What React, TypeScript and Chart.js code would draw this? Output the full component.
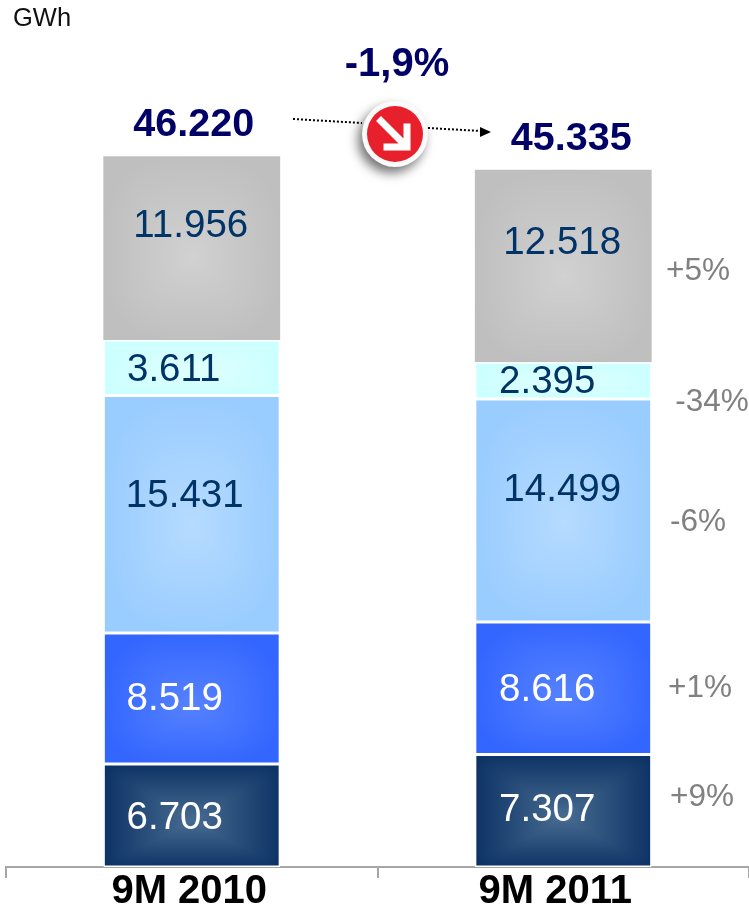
import React, { useEffect, useRef } from "react";
import { Chart, registerables } from "chart.js";

Chart.register(...registerables);

const categories = ["9M 2010", "9M 2011\u00a0"];
const navyValues = [6703, 7307];
const blueValues = [8519, 8616];
const lightBlueValues = [15431, 14499];
const cyanValues = [3611, 2395];
const greyValues = [11956, 12518];
const totals = ["46.220", "45.335"];
const changeLabels = ["+9%", "+1%", "-6%", "-34%", "+5%"];
const overallChange = "-1,9%";
const unitLabel = "GWh";

const FONT = '"Liberation Sans", Arial, sans-serif';

type Rgb = [number, number, number];
const seriesStyles: { name: string; values: number[]; edge: Rgb; centre: Rgb; power: number; text: string; border: number }[] = [
  { name: "a", values: navyValues, edge: [13, 51, 102], centre: [72, 108, 144], power: 12, text: "#ffffff", border: 1.5 },
  { name: "b", values: blueValues, edge: [51, 102, 255], centre: [86, 130, 255], power: 3, text: "#ffffff", border: 1.5 },
  { name: "c", values: lightBlueValues, edge: [153, 204, 255], centre: [182, 219, 255], power: 3, text: "#003366", border: 1.5 },
  { name: "d", values: cyanValues, edge: [204, 255, 255], centre: [224, 255, 255], power: 3, text: "#003366", border: 1.5 },
  { name: "e", values: greyValues, edge: [191, 191, 191], centre: [209, 209, 209], power: 3, text: "#003366", border: 0 },
];

// label offsets from the centre of each bar segment, by [dataset][bar]
const labelNudges: [number, number][][] = [
  [[-17, 1], [-16, -2]],
  [[-17, -1], [-16, 0]],
  [[-7, -20], [-1, -22]],
  [[-18, 1], [-16, 0]],
  [[-1, -24], [-1, -25]],
];
const changeAnchors: [number, number][] = [
  [702, 795],
  [700, 686],
  [698, 520],
  [712, 400],
  [698, 269],
];

const rgb = (c: Rgb) => `rgb(${c[0]},${c[1]},${c[2]})`;
const patternCache = new Map<string, CanvasPattern>();

function boxGlow(ctx: any) {
  const style = seriesStyles[ctx.datasetIndex];
  const chart = ctx.chart;
  const sx = chart.scales?.x;
  const sy = chart.scales?.y;
  if (!chart.chartArea || !sx || !sy) return rgb(style.edge);
  let below = 0;
  for (let i = 0; i < ctx.datasetIndex; i++) below += seriesStyles[i].values[ctx.dataIndex];
  const value = style.values[ctx.dataIndex];
  const yBottom = sy.getPixelForValue(below);
  const yTop = sy.getPixelForValue(below + value);
  const cx = sx.getPixelForValue(ctx.dataIndex);
  const w = (sx.width / categories.length) * 0.476;
  const key = `${ctx.datasetIndex}-${ctx.dataIndex}-${yTop}-${yBottom}-${w}`;
  const hit = patternCache.get(key);
  if (hit) return hit;
  const off = document.createElement("canvas");
  off.width = chart.width;
  off.height = chart.height;
  const oc = off.getContext("2d")!;
  const x0 = Math.floor(cx - w / 2) - 2;
  const y0 = Math.floor(yTop) - 2;
  const pw = Math.ceil(w) + 4;
  const ph = Math.ceil(yBottom - yTop) + 4;
  const img = oc.createImageData(pw, ph);
  const midY = yTop + (yBottom - yTop) * 0.55;
  for (let py = 0; py < ph; py++) {
    for (let px = 0; px < pw; px++) {
      const dx = Math.abs(x0 + px - cx) / (w / 2);
      const wy = y0 + py < midY ? midY - yTop : yBottom - midY;
      const dy = Math.abs(y0 + py - midY) / wy;
      const t = Math.min(1, Math.pow(Math.pow(dx, style.power) + Math.pow(dy, style.power), 1 / style.power));
      const k = 1 - t;
      const o = (py * pw + px) * 4;
      for (let c = 0; c < 3; c++) img.data[o + c] = style.edge[c] + (style.centre[c] - style.edge[c]) * k;
      img.data[o + 3] = 255;
    }
  }
  oc.putImageData(img, x0, y0);
  const pattern = oc.createPattern(off, "no-repeat")!;
  patternCache.set(key, pattern);
  return pattern;
}

function text(c: CanvasRenderingContext2D, s: string, x: number, y: number, font: string, color: string, align: CanvasTextAlign = "center") {
  c.font = font;
  c.fillStyle = color;
  c.textAlign = align;
  c.textBaseline = "middle";
  c.fillText(s, x, y + 2);
}

function dotted(c: CanvasRenderingContext2D, x1: number, y1: number, x2: number, y2: number) {
  c.save();
  c.strokeStyle = "#000000";
  c.lineWidth = 2;
  c.setLineDash([2, 2]);
  c.beginPath();
  c.moveTo(x1, y1);
  c.lineTo(x2, y2);
  c.stroke();
  c.restore();
}

const annotations = {
  id: "annotations",
  afterDatasetsDraw(chart: any) {
    const c: CanvasRenderingContext2D = chart.ctx;
    c.save();
    seriesStyles.forEach((style, d) => {
      chart.getDatasetMeta(d).data.forEach((bar: any, i: number) => {
        const [dx, dy] = labelNudges[d][i];
        text(c, style.values[i].toLocaleString("de-DE"), bar.x + dx, (bar.y + bar.base) / 2 + dy, `38.5px ${FONT}`, style.text);
      });
    });
    changeLabels.forEach((s, i) => {
      text(c, s, changeAnchors[i][0], changeAnchors[i][1], `31.5px ${FONT}`, "#808080");
    });
    const top = chart.getDatasetMeta(seriesStyles.length - 1).data;
    text(c, totals[0], top[0].x + 2, top[0].y - 33, `bold 39.5px ${FONT}`, "#000066");
    text(c, totals[1], top[1].x + 8, top[1].y - 33, `bold 39.5px ${FONT}`, "#000066");
    text(c, overallChange, 397, 63, `bold 40px ${FONT}`, "#000066");
    text(c, unitLabel, 13, 17, `25.5px ${FONT}`, "#111111", "left");

    dotted(c, 293, 119, 362, 123);
    dotted(c, 428, 128, 481, 131);
    c.fillStyle = "#000000";
    c.beginPath();
    c.moveTo(491, 132);
    c.lineTo(480, 127);
    c.lineTo(480, 137);
    c.closePath();
    c.fill();

    const bx = 395, by = 134;
    c.save();
    c.shadowColor = "rgba(0,0,0,0.55)";
    c.shadowBlur = 11;
    c.shadowOffsetX = -4;
    c.shadowOffsetY = 6;
    c.fillStyle = "#fbfbfb";
    c.beginPath();
    c.arc(bx, by, 33, 0, Math.PI * 2);
    c.fill();
    c.restore();
    c.fillStyle = "#e8202c";
    c.beginPath();
    c.arc(bx, by, 28, 0, Math.PI * 2);
    c.fill();
    c.strokeStyle = "#ffffff";
    c.lineWidth = 7;
    c.lineCap = "square";
    c.beginPath();
    c.moveTo(bx - 14, by - 13);
    c.lineTo(bx + 10, by + 11);
    c.moveTo(bx + 12, by - 7);
    c.lineTo(bx + 12, by + 13);
    c.lineTo(bx - 8, by + 13);
    c.stroke();
    c.restore();
  },
};

export default function App() {
  const ref = useRef<HTMLCanvasElement>(null);
  useEffect(() => {
    const chart = new Chart(ref.current!, {
      type: "bar",
      plugins: [annotations],
      data: {
        labels: categories,
        datasets: seriesStyles.map((s) => ({
          label: s.name,
          data: s.values,
          backgroundColor: boxGlow,
          borderColor: "#ffffff",
          borderWidth: s.border,
          borderSkipped: false,
          barPercentage: 0.476,
          categoryPercentage: 1,
        })),
      },
      options: {
        responsive: false,
        animation: false,
        events: [],
        layout: { padding: { left: 6, right: 0, top: 98, bottom: 0 } },
        plugins: { legend: { display: false }, tooltip: { enabled: false }, title: { display: false } },
        scales: {
          x: {
            stacked: true,
            afterFit: (scale: any) => {
              scale.height = 49;
            },
            border: { color: "#a6a6a6", width: 2 },
            grid: { color: "#a6a6a6", lineWidth: 2, tickLength: 11, drawOnChartArea: false },
            ticks: {
              color: "#000000",
              font: { family: FONT, size: 40, weight: "bold" },
              padding: -10,
              labelOffset: -2.5,
              maxRotation: 0,
              autoSkip: false,
            },
          },
          y: { stacked: true, display: false, min: 0, max: 50000 },
        },
      } as any,
    });
    return () => chart.destroy();
  }, []);
  return (
    <div style={{ position: "absolute", left: 0, top: 0, width: 749, height: 916, background: "#ffffff" }}>
      <canvas ref={ref} width={749} height={916} style={{ display: "block" }} />
    </div>
  );
}
